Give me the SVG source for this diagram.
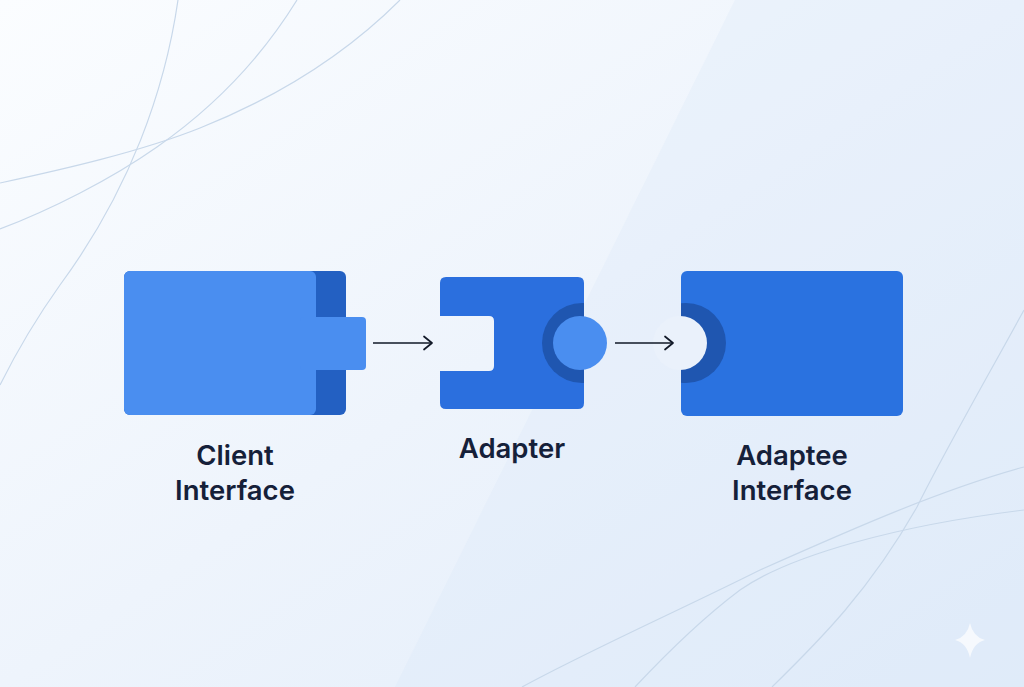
<svg xmlns="http://www.w3.org/2000/svg" width="1024" height="687" viewBox="0 0 1024 687">
<defs>
<linearGradient id="bg" x1="0" y1="0" x2="1" y2="1">
<stop offset="0" stop-color="#FBFDFF"/>
<stop offset="0.5" stop-color="#EEF4FC"/>
<stop offset="1" stop-color="#E1ECFA"/>
</linearGradient>
<marker id="arr" markerWidth="14" markerHeight="16" refX="11" refY="8" orient="auto" markerUnits="userSpaceOnUse">
<path d="M3,1.5 L11,8 L3,14.5" fill="none" stroke="#111827" stroke-width="1.7" stroke-linecap="round" stroke-linejoin="round"/>
</marker>
<clipPath id="clipA"><rect x="440" y="277" width="144" height="132" rx="6"/></clipPath>
<clipPath id="clipB"><rect x="681" y="271" width="222" height="145" rx="6"/></clipPath>
</defs>
<style>
.curve{fill:none;stroke:#C8D8EA;stroke-width:1.2}
.lbl{font-family:"Inter","Liberation Sans",sans-serif;font-weight:600;font-size:27.5px;fill:#152039;text-anchor:middle}
.conn{stroke:#111827;stroke-width:1.6;fill:none}
</style>
<rect width="1024" height="687" fill="url(#bg)"/>
<polygon points="735,0 1024,0 1024,687 395,687" fill="#DCE8F9" opacity="0.3"/>
<g id="background-curves">
<path class="curve" d="M178,0 C165,90 130,190 60,285 C35,320 15,355 0,385"/>
<path class="curve" d="M297,0 C260,60 210,110 157,147 C110,180 50,210 0,229"/>
<path class="curve" d="M400,0 C340,60 270,100 200,128 C140,152 60,170 0,183"/>
<path class="curve" d="M1024,310 C980,390 940,460 917,507 C870,590 820,640 772,687"/>
<path class="curve" d="M1024,467 C940,490 850,530 760,570 C680,610 590,650 522,687"/>
<path class="curve" d="M1024,510 C900,525 790,555 740,590 C700,620 665,655 635,687"/>
<path d="M970,623 Q973,637 985,640 Q973,643 970,658 Q967,643 955,640 Q967,637 970,623 Z" fill="#FFFFFF" opacity="0.7"/>
</g>
<g id="client">
<rect x="124" y="271" width="222" height="144" rx="6" fill="#2360C2"/>
<rect x="124" y="271" width="192" height="144" rx="6" fill="#4A8EF0"/>
<rect x="300" y="317" width="66" height="53" rx="4" fill="#4A8EF0"/>
<text class="lbl" x="235" y="465">Client</text>
<text class="lbl" x="235" y="500">Interface</text>
</g>
<g id="adapter">
<path d="M446,277 H578 Q584,277 584,283 V403 Q584,409 578,409 H446 Q440,409 440,403 V371 H489 Q494,371 494,366 V321 Q494,316 489,316 H440 V283 Q440,277 446,277 Z" fill="#2B6FDE"/>
<circle cx="582" cy="343" r="40" fill="#1F56B0" clip-path="url(#clipA)"/>
<circle cx="580" cy="343" r="27" fill="#4A8EF0"/>
<text class="lbl" x="512" y="458">Adapter</text>
</g>
<g id="adaptee">
<rect x="681" y="271" width="222" height="145" rx="6" fill="#2A72E0"/>
<circle cx="686" cy="343" r="40" fill="#1F56B0" clip-path="url(#clipB)"/>
<circle cx="680" cy="343" r="27" fill="#EAF1FB"/>
<text class="lbl" x="792" y="465">Adaptee</text>
<text class="lbl" x="792" y="500">Interface</text>
</g>
<g id="connectors">
<line class="conn" x1="373" y1="343" x2="432" y2="343" marker-end="url(#arr)"/>
<line class="conn" x1="615" y1="343" x2="673" y2="343" marker-end="url(#arr)"/>
</g>
</svg>
